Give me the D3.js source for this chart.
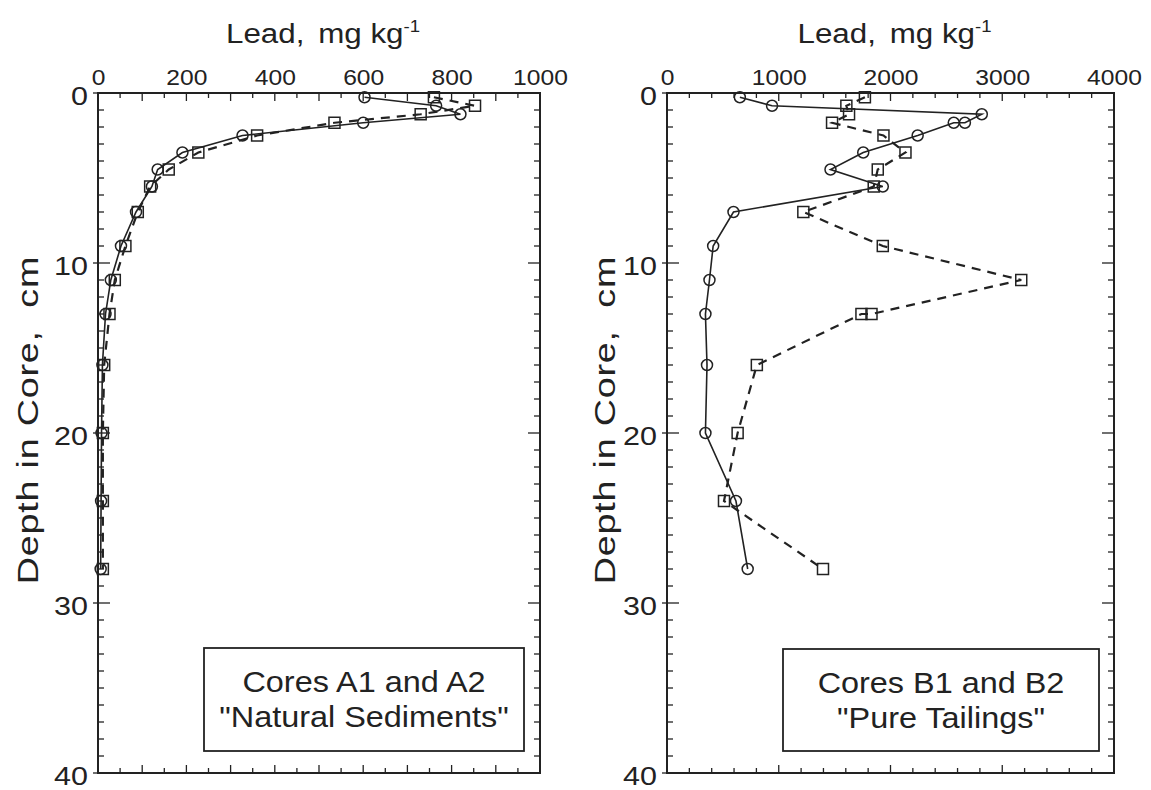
<!DOCTYPE html>
<html>
<head>
<meta charset="utf-8">
<script src="https://cdn.jsdelivr.net/npm/d3@7"></script>
<style>
  html, body { margin: 0; padding: 0; background: #fff; }
  svg { display: block; }
  text { font-family: "Liberation Sans", Arial, Helvetica, sans-serif; fill: #222; white-space: pre; }
</style>
</head>
<body>
<svg id="chart" width="1151" height="790"></svg>
<script>
// ---- Data ----
// Left panel: Cores A1 (circles, solid) and A2 (squares, dashed)
const depthA1 = [0.25, 0.75, 1.25, 1.75, 2.5, 3.5, 4.5, 5.5, 7, 9, 11, 13, 16, 20, 24, 28];
const leadA1  = [603, 765, 820, 600, 327, 191, 135, 122, 86, 52, 29, 17, 10, 8, 7, 6];
const depthA2 = [0.25, 0.75, 1.25, 1.75, 2.5, 3.5, 4.5, 5.5, 7, 9, 11, 13, 16, 20, 24, 28];
const leadA2  = [760, 853, 730, 535, 360, 227, 160, 118, 90, 62, 38, 26, 14, 11, 11, 11];
// Right panel: Cores B1 (circles, solid) and B2 (squares, dashed)
const depthB1 = [0.25, 0.75, 1.25, 1.75, 1.75, 2.5, 3.5, 4.5, 5.5, 7, 9, 11, 13, 16, 20, 24, 28];
const leadB1  = [652, 940, 2817, 2666, 2566, 2243, 1756, 1463, 1931, 595, 413, 380, 344, 358, 344, 617, 722];
const depthB2 = [0.25, 0.75, 1.25, 1.75, 2.5, 3.5, 4.5, 5.5, 7, 9, 11, 13, 13, 16, 20, 24, 28];
const leadB2  = [1771, 1605, 1629, 1477, 1937, 2134, 1886, 1850, 1220, 1931, 3170, 1830, 1740, 804, 632, 510, 1396];

const xTickLabelsLeft  = [0, 200, 400, 600, 800, 1000];
const xTickLabelsRight = [0, 1000, 2000, 3000, 4000];
const yTickLabels = [0, 10, 20, 30, 40];

const xTitleMain = "Lead,";
const xTitleUnit = "mg kg";
const xTitleSup = "-1";
const yTitle = "Depth in Core,  cm";
const legendLeft  = ["Cores A1 and A2", "\"Natural Sediments\""];
const legendRight = ["Cores B1 and B2", "\"Pure Tailings\""];

// ---- Layout ----
const svg = d3.select("#chart");
const INK = "#222";

const panels = [
  { x0: 98, x1: 540, max: 1000, minorStep: 50, majorStep: 100, labels: xTickLabelsLeft,
    s1: [depthA1, leadA1], s2: [depthA2, leadA2], legend: legendLeft,
    box: { x: 204, y: 648, w: 320, h: 103 }, yTitleX: 38 },
  { x0: 667, x1: 1114, max: 4000, minorStep: 200, majorStep: 1000, labels: xTickLabelsRight,
    s1: [depthB1, leadB1], s2: [depthB2, leadB2], legend: legendRight,
    box: { x: 783, y: 649, w: 316, h: 102 }, yTitleX: 615 }
];
const yTop = 93, yBot = 773;

panels.forEach(p => {
  const x = d3.scaleLinear().domain([0, p.max]).range([p.x0, p.x1]);
  const y = d3.scaleLinear().domain([0, 40]).range([yTop, yBot]);
  const g = svg.append("g");

  // frame
  g.append("rect").attr("x", p.x0).attr("y", yTop)
    .attr("width", p.x1 - p.x0).attr("height", yBot - yTop)
    .attr("fill", "none").attr("stroke", INK).attr("stroke-width", 2);

  // x ticks (top and bottom, inward)
  d3.range(0, p.max + 1e-6, p.minorStep).forEach(v => {
    const major = Math.abs(v / p.majorStep - Math.round(v / p.majorStep)) < 1e-6;
    const len = major ? 8 : 5;
    g.append("line").attr("x1", x(v)).attr("x2", x(v)).attr("y1", yTop).attr("y2", yTop + len)
      .attr("stroke", INK).attr("stroke-width", 1.3);
    g.append("line").attr("x1", x(v)).attr("x2", x(v)).attr("y1", yBot).attr("y2", yBot - len)
      .attr("stroke", INK).attr("stroke-width", 1.3);
  });
  // y ticks (left and right, inward; majors cross the frame)
  d3.range(0, 41, 1).forEach(v => {
    const major = v % 10 === 0;
    g.append("line").attr("x1", p.x0 - (major ? 5 : 0)).attr("x2", p.x0 + (major ? 12 : 6))
      .attr("y1", y(v)).attr("y2", y(v)).attr("stroke", INK).attr("stroke-width", 1.3);
    g.append("line").attr("x1", p.x1 - (major ? 12 : 6)).attr("x2", p.x1)
      .attr("y1", y(v)).attr("y2", y(v)).attr("stroke", INK).attr("stroke-width", 1.3);
  });

  // tick labels
  const xAxis = d3.axisTop(x).tickValues(p.labels).tickSize(0).tickPadding(8).tickFormat(d3.format("d"));
  const xa = g.append("g").attr("transform", `translate(0,${yTop})`).call(xAxis);
  xa.select(".domain").remove();
  xa.selectAll("text").attr("font-size", 22).attr("fill", INK).attr("transform", "scale(1.12,1)")
    .style("font-family", '"Liberation Sans", Arial, sans-serif');

  const yAxis = d3.axisLeft(y).tickValues(yTickLabels).tickSize(0).tickPadding(0);
  const ya = g.append("g").attr("transform", `translate(${p.x0 - 10},0)`).call(yAxis);
  ya.select(".domain").remove();
  ya.selectAll("text").attr("font-size", 25).attr("fill", INK).attr("x", 0).attr("dy", "0.45em")
    .attr("transform", "scale(1.22,1)")
    .style("font-family", '"Liberation Sans", Arial, sans-serif');

  // x title
  const tg = g.append("g").attr("transform", `translate(${(p.x0 + p.x1) / 2 + 4},43) scale(1.16,1)`);
  const tx = tg.append("text").attr("x", 0).attr("y", 0).attr("text-anchor", "middle").attr("font-size", 27);
  tx.append("tspan").text(xTitleMain);
  tx.append("tspan").attr("dx", 12).text(xTitleUnit);
  tx.append("tspan").attr("dy", -11).attr("font-size", 16).text(xTitleSup);

  // y title
  g.append("g").attr("transform", `translate(${p.yTitleX},420) rotate(-90) scale(1.3,1)`)
    .append("text").attr("text-anchor", "middle").attr("font-size", 29)
    .attr("letter-spacing", 0.6).text(yTitle);

  // series lines
  const mk = (s) => s[0].map((d, i) => [s[1][i], d]);
  const line = d3.line().x(d => x(d[0])).y(d => y(d[1]));
  g.append("path").datum(mk(p.s2)).attr("d", line).attr("fill", "none")
    .attr("stroke", INK).attr("stroke-width", 2.2).attr("stroke-dasharray", "9,7");
  g.append("path").datum(mk(p.s1)).attr("d", line).attr("fill", "none")
    .attr("stroke", INK).attr("stroke-width", 1.6);

  // markers
  g.selectAll(".sq").data(mk(p.s2)).enter().append("rect")
    .attr("x", d => x(d[0]) - 5.5).attr("y", d => y(d[1]) - 5.5)
    .attr("width", 11).attr("height", 11)
    .attr("fill", "none").attr("stroke", INK).attr("stroke-width", 1.5);
  g.selectAll(".ci").data(mk(p.s1)).enter().append("circle")
    .attr("cx", d => x(d[0])).attr("cy", d => y(d[1])).attr("r", 5.5)
    .attr("fill", "none").attr("stroke", INK).attr("stroke-width", 1.5);

  // legend box
  const b = p.box;
  g.append("rect").attr("x", b.x).attr("y", b.y).attr("width", b.w).attr("height", b.h)
    .attr("fill", "#fff").attr("stroke", INK).attr("stroke-width", 1.8);
  p.legend.forEach((t, i) => {
    g.append("g").attr("transform", `translate(${b.x + b.w / 2},${b.y + 44 + i * 35}) scale(1.08,1)`)
      .append("text").attr("text-anchor", "middle").attr("font-size", 30).text(t);
  });
});
</script>
</body>
</html>
